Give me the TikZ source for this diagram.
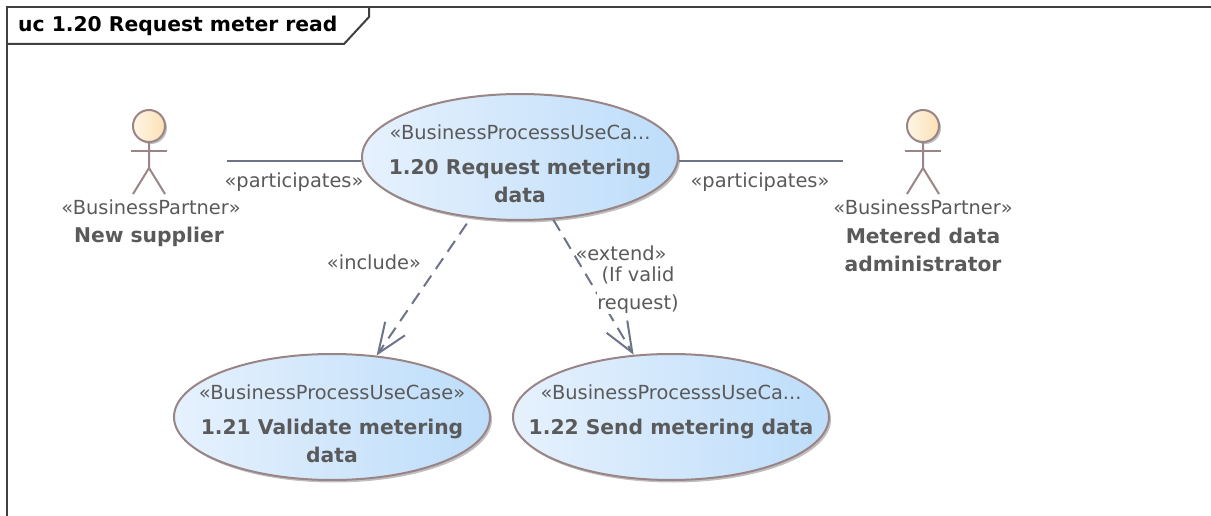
\documentclass[tikz,border=0pt]{standalone}
\usepackage{fontspec}
\setmainfont{DejaVu Sans}
\usetikzlibrary{arrows.meta,shapes.geometric,shadows}
\definecolor{edgegray}{HTML}{6E7488}
\definecolor{rimbrown}{HTML}{9A8586}
\definecolor{textgray}{HTML}{5A5A5A}
\definecolor{caseleft}{HTML}{E6F1FD}
\definecolor{caseright}{HTML}{BDDDFA}
\definecolor{headleft}{HTML}{FFF6E6}
\definecolor{headright}{HTML}{FBE0B4}
\newcommand{\rolefont}{\fontsize{19.4}{20}\selectfont\mdseries}
\tikzset{
  usecase/.style={ellipse,draw=rimbrown,line width=2pt,left color=caseleft,right color=caseright,
    minimum width=316pt,minimum height=126pt,inner sep=0pt,
    drop shadow={shadow xshift=2pt,shadow yshift=-2.5pt,fill=black,opacity=.25}},
  casetext/.style={text=textgray,font=\fontsize{20.3}{28}\selectfont\bfseries,inner sep=0pt,align=center,yshift=-6.5pt},
  caption/.style={text=textgray,font=\fontsize{19.4}{27}\selectfont,inner sep=0pt,align=center},
  title/.style={text=textgray,font=\fontsize{20.3}{28}\selectfont\bfseries,inner sep=0pt,align=center},
  link/.style={draw=edgegray,line width=2pt},
  dep/.style={link,dash pattern=on 13pt off 8pt,-{Straight Barb[length=30pt,width=24pt,line width=2pt]}},
  limb/.style={draw=rimbrown,line width=2pt},
}
\newcommand{\stickman}[2]{%
  \node (#1) [circle,draw=rimbrown,line width=2pt,left color=headleft,right color=headright,minimum size=32pt,inner sep=0pt,
    drop shadow={shadow xshift=2pt,shadow yshift=-2pt,fill=black,opacity=.25}] at (#2,126) {};
  \draw [limb] (#1.south) -- (#2,168) -- (#2-16,194);
  \draw [limb] (#2,168) -- (#2+16,194);
  \draw [limb] (#2-18,151) -- (#2+18,151);
}
\begin{document}
\begin{tikzpicture}[x=1pt,y=-1pt]
  \useasboundingbox (0,0) rectangle (1211,516);
  \draw [line width=2pt,draw=black!75] (7,516) -- (7,7) -- (1211,7);
  \draw [line width=2pt,draw=black!75] (7,44) -- (344,44) -- (369,17) -- (369,7);
  \node (frametitle) [anchor=west,inner sep=0pt,font=\fontsize{20.3}{24}\selectfont\bfseries] at (18,26) {uc 1.20 Request meter read};
  % actors
  \stickman{supplier}{149}
  \stickman{admin}{923}
  \node (supplierrole) [caption] at (151,207) {«BusinessPartner»};
  \node (suppliername) [title] at (149,236.5) {New supplier};
  \node (adminrole) [caption] at (923,207) {«BusinessPartner»};
  \node (adminname) [title] at (923,249.5) {Metered data\\administrator};
  % use cases
  \node (request) [usecase] at (520,157) {};
  \node (validate) [usecase] at (332,417) {};
  \node (send) [usecase] at (671,417) {};
  \node (requesttext) [casetext] at (request) {\rolefont «BusinessProcesssUseCa...\\[7pt]1.20 Request metering\\data};
  \node (validatetext) [casetext] at (validate) {\rolefont «BusinessProcessUseCase»\\[7pt]1.21 Validate metering\\data};
  \node (sendtext) [casetext] at (send) {\rolefont «BusinessProcesssUseCa...\\[7pt]1.22 Send metering data\\\phantom{data}};
  % connectors
  \coordinate (supplierend) at (227,161);
  \coordinate (adminend) at (843,161);
  \draw [link] (supplierend) -- (request.west |- supplierend);
  \draw [link] (request.east |- adminend) -- (adminend);
  \draw [dep,shorten <=7pt] (request.231) -- (validate.54);
  \draw [dep] (request.298) -- (send.121);
  \node (partleft) [caption,fill=white] at (294,182.5) {«participates»};
  \node (partright) [caption] at (760,182) {«participates»};
  \node (includelabel) [caption] at (374,262) {«include»};
  \node (extendlabel) [caption] at (621,253) {«extend»};
  \node (condlabel) [caption,fill=white] at (638,290.5) {(If valid\\[1pt]request)};
\end{tikzpicture}
\end{document}
